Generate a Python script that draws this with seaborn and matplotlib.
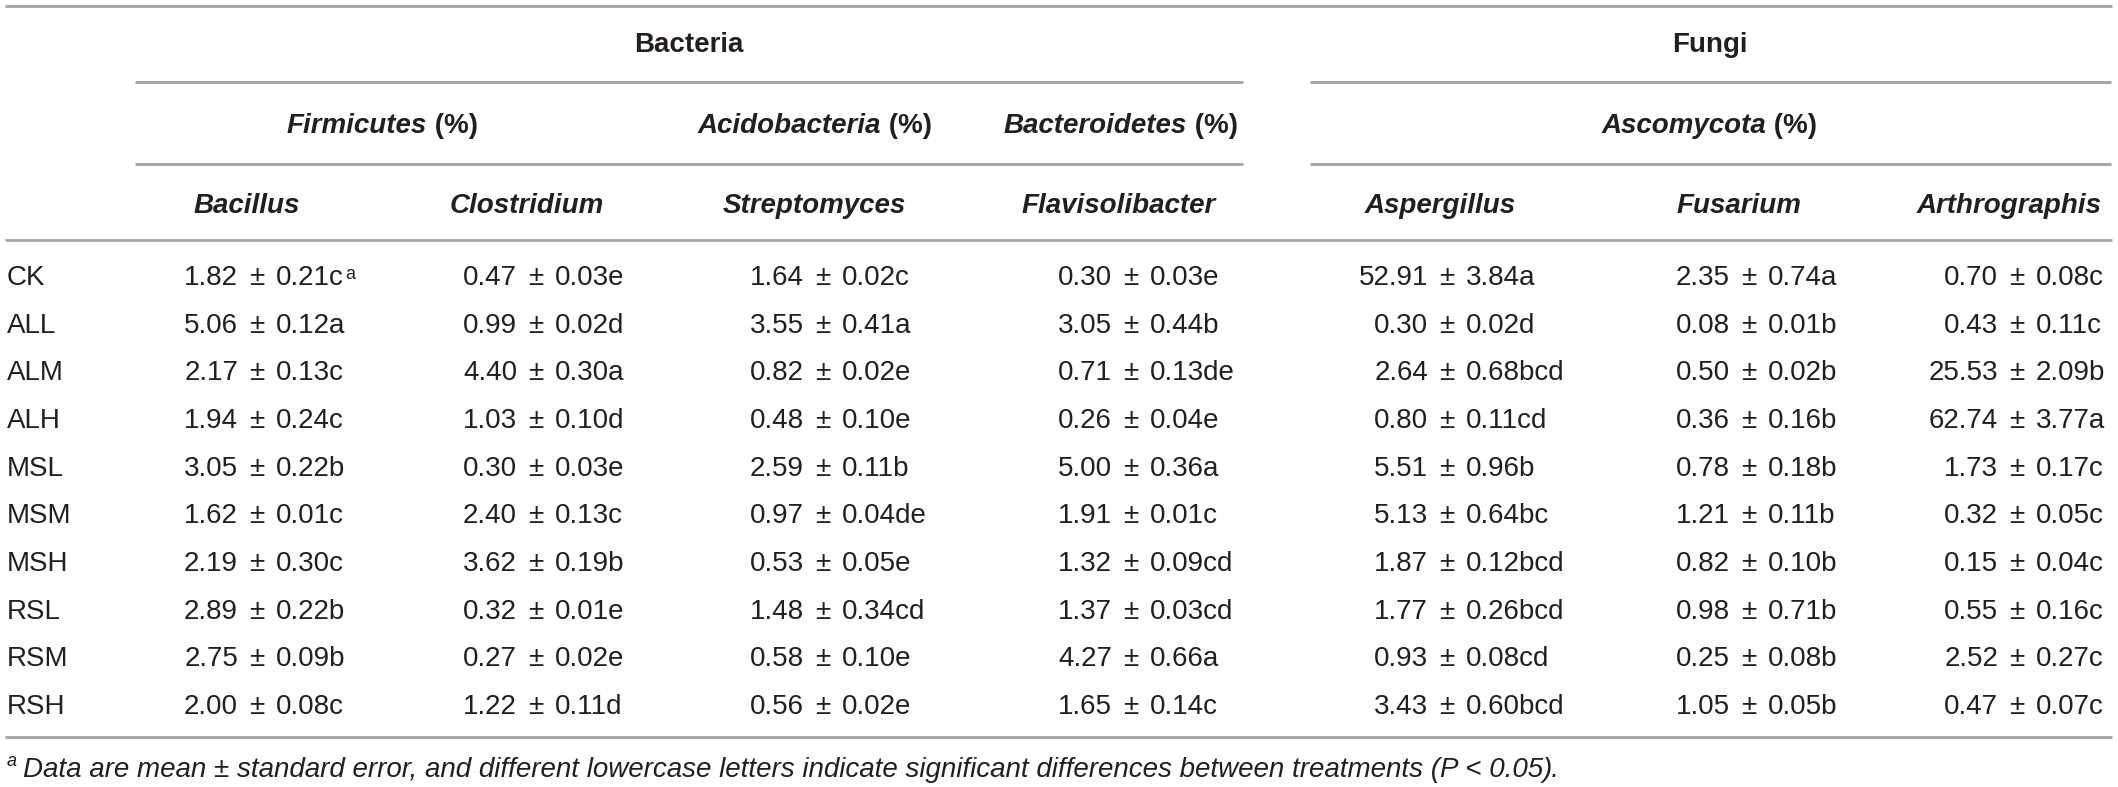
import seaborn as sns
import matplotlib.pyplot as plt

# table contents
kingdoms = ["Bacteria", "Fungi"]
phyla = ["Firmicutes", "Acidobacteria", "Bacteroidetes", "Ascomycota"]
genera = ["Bacillus", "Clostridium", "Streptomyces", "Flavisolibacter",
          "Aspergillus", "Fusarium", "Arthrographis"]
treatments = ["CK", "ALL", "ALM", "ALH", "MSL", "MSM", "MSH", "RSL", "RSM", "RSH"]

bacillus = ["1.82 ± 0.21c", "5.06 ± 0.12a", "2.17 ± 0.13c", "1.94 ± 0.24c", "3.05 ± 0.22b",
            "1.62 ± 0.01c", "2.19 ± 0.30c", "2.89 ± 0.22b", "2.75 ± 0.09b", "2.00 ± 0.08c"]
clostridium = ["0.47 ± 0.03e", "0.99 ± 0.02d", "4.40 ± 0.30a", "1.03 ± 0.10d", "0.30 ± 0.03e",
               "2.40 ± 0.13c", "3.62 ± 0.19b", "0.32 ± 0.01e", "0.27 ± 0.02e", "1.22 ± 0.11d"]
streptomyces = ["1.64 ± 0.02c", "3.55 ± 0.41a", "0.82 ± 0.02e", "0.48 ± 0.10e", "2.59 ± 0.11b",
                "0.97 ± 0.04de", "0.53 ± 0.05e", "1.48 ± 0.34cd", "0.58 ± 0.10e", "0.56 ± 0.02e"]
flavisolibacter = ["0.30 ± 0.03e", "3.05 ± 0.44b", "0.71 ± 0.13de", "0.26 ± 0.04e", "5.00 ± 0.36a",
                   "1.91 ± 0.01c", "1.32 ± 0.09cd", "1.37 ± 0.03cd", "4.27 ± 0.66a", "1.65 ± 0.14c"]
aspergillus = ["52.91 ± 3.84a", "0.30 ± 0.02d", "2.64 ± 0.68bcd", "0.80 ± 0.11cd", "5.51 ± 0.96b",
               "5.13 ± 0.64bc", "1.87 ± 0.12bcd", "1.77 ± 0.26bcd", "0.93 ± 0.08cd", "3.43 ± 0.60bcd"]
fusarium = ["2.35 ± 0.74a", "0.08 ± 0.01b", "0.50 ± 0.02b", "0.36 ± 0.16b", "0.78 ± 0.18b",
            "1.21 ± 0.11b", "0.82 ± 0.10b", "0.98 ± 0.71b", "0.25 ± 0.08b", "1.05 ± 0.05b"]
arthrographis = ["0.70 ± 0.08c", "0.43 ± 0.11c", "25.53 ± 2.09b", "62.74 ± 3.77a", "1.73 ± 0.17c",
                 "0.32 ± 0.05c", "0.15 ± 0.04c", "0.55 ± 0.16c", "2.52 ± 0.27c", "0.47 ± 0.07c"]
columns = [bacillus, clostridium, streptomyces, flavisolibacter, aspergillus, fusarium, arthrographis]

footnote = "Data are mean ± standard error, and different lowercase letters indicate significant differences between treatments ("

# layout (pixels)
W, H = 2118, 787
FS = 20
TXT = "#231f20"
LINE = "#a3a3a3"
kingdom_x = [689, 1710]
phylum_x = [382, 815, 1121, 1709]
genus_x = [247, 527, 814, 1119, 1440, 1739, 2009]
anchor_x = [238, 517, 804, 1112, 1428, 1730, 1998]
row_y0, row_dy = 285, 47.67

sns.set_theme(style="white")
plt.rcParams["font.family"] = ["Liberation Sans", "DejaVu Sans"]

fig = plt.figure(figsize=(W / 100, H / 100), dpi=100)
ax = fig.add_axes([0, 0, 1, 1])
ax.set_xlim(0, W)
ax.set_ylim(H, 0)
ax.axis("off")
renderer = fig.canvas.get_renderer()

# rules
for y in [6, 240, 737]:
    ax.plot([5, 2112], [y, y], color=LINE, lw=2.0, solid_capstyle="butt")
for y in [82, 164]:
    ax.plot([135, 1243], [y, y], color=LINE, lw=2.0, solid_capstyle="butt")
    ax.plot([1310, 2111], [y, y], color=LINE, lw=2.0, solid_capstyle="butt")

# kingdom headers
for name, x in zip(kingdoms, kingdom_x):
    ax.text(x, 52, name, ha="center", va="baseline", fontsize=FS, fontweight="bold", color=TXT)

# phylum headers: italic name + upright (%)
for name, x in zip(phyla, phylum_x):
    t1 = ax.text(0, 133, name, ha="left", va="baseline", fontsize=FS,
                 fontweight="bold", fontstyle="italic", color=TXT)
    t2 = ax.text(0, 133, " (%)", ha="left", va="baseline", fontsize=FS,
                 fontweight="bold", color=TXT)
    w1 = t1.get_window_extent(renderer).width
    w2 = t2.get_window_extent(renderer).width
    start = x - (w1 + w2) / 2
    t1.set_x(start)
    t2.set_x(start + w1)

# genus headers
for name, x in zip(genera, genus_x):
    ax.text(x, 213, name, ha="center", va="baseline", fontsize=FS,
            fontweight="bold", fontstyle="italic", color=TXT)

# body
for i, trt in enumerate(treatments):
    y = row_y0 + i * row_dy
    ax.text(7, y, trt, ha="left", va="baseline", fontsize=FS, color=TXT)
    for col, a in zip(columns, anchor_x):
        mean, se = col[i].split(" ± ")
        ax.text(a, y, mean, ha="right", va="baseline", fontsize=FS, color=TXT)
        ax.text(a + 19, y, "±", ha="center", va="baseline", fontsize=FS, color=TXT)
        t = ax.text(a + 38, y, se, ha="left", va="baseline", fontsize=FS, color=TXT)
        if i == 0 and col is bacillus:
            ax.annotate("a", xy=(1, 1), xycoords=t, xytext=(1, -1), textcoords="offset points",
                        ha="left", va="top", fontsize=13, color=TXT)

# footnote
ax.text(7, 766, "a", ha="left", va="baseline", fontsize=13, fontstyle="italic", color=TXT)
tf = ax.text(23, 777, footnote, ha="left", va="baseline", fontsize=FS, fontstyle="italic", color=TXT)
wf = tf.get_window_extent(renderer).width
tp = ax.text(23 + wf, 777, "P < 0.05", ha="left", va="baseline", fontsize=FS,
             fontstyle="italic", color=TXT)
wp = tp.get_window_extent(renderer).width
ax.text(23 + wf + wp, 777, ").", ha="left", va="baseline", fontsize=FS, fontstyle="italic", color=TXT)

fig.savefig("out.png", dpi=100)
